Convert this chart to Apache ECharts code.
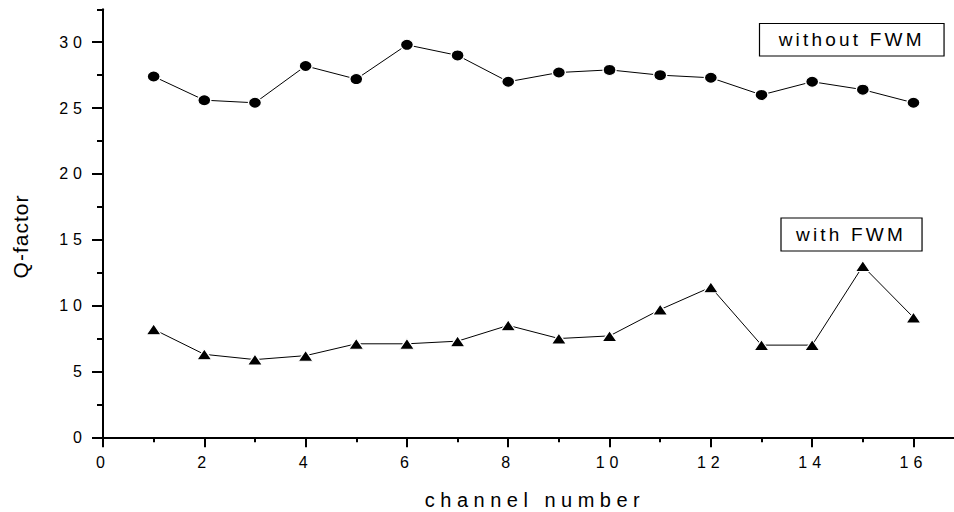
<!DOCTYPE html>
<html>
<head>
<meta charset="utf-8">
<script src="https://cdn.jsdelivr.net/npm/echarts@6/dist/echarts.min.js"></script>
<style>
  html, body { margin: 0; padding: 0; background: #fff; }
  #chart { width: 954px; height: 512px; }
  /* letter spacing of the original's text, keyed by font size */
  #chart text[style*="16px"] { letter-spacing: 5px; }
  #chart text[style*="20px"] { letter-spacing: 5.5px; }
  #chart text[style*="19px"] { letter-spacing: 3.2px; }
  #chart text[style*="21px"] { letter-spacing: 1px; }
</style>
</head>
<body>
<div id="chart"></div>
<script>
// ---- data ----
const channels   = [1, 2, 3, 4, 5, 6, 7, 8, 9, 10, 11, 12, 13, 14, 15, 16];
const withoutFWM = [27.4, 25.6, 25.4, 28.2, 27.2, 29.8, 29.0, 27.0, 27.7, 27.9, 27.5, 27.3, 26.0, 27.0, 26.4, 25.4];
const withFWM    = [8.2, 6.3, 5.9, 6.2, 7.1, 7.1, 7.3, 8.5, 7.5, 7.7, 9.7, 11.4, 7.0, 7.0, 13.0, 9.1];
const seriesNames = ['without FWM', 'with FWM'];
const xMajorTicks = [0, 2, 4, 6, 8, 10, 12, 14, 16];
const xMinorTicks = [1, 3, 5, 7, 9, 11, 13, 15];
const yMajorTicks = [0, 5, 10, 15, 20, 25, 30];
const yMinorTicks = [2.5, 7.5, 12.5, 17.5, 22.5, 27.5, 32.5];
const xTitle = 'channel number';
const yTitle = 'Q-factor';

const FONT = 'Liberation Sans';
const pairs = vals => channels.map((c, i) => [c, vals[i]]);

const chart = echarts.init(document.getElementById('chart'), null, { renderer: 'svg' });

const axisLineStyle = { color: '#000', width: 2 };
const baseX = { type: 'value', min: 0, max: 16.8, interval: 2, gridIndex: 0, position: 'bottom', splitLine: { show: false } };
const baseY = { type: 'value', min: 0, max: 32.5, interval: 5, gridIndex: 0, position: 'left', splitLine: { show: false } };

chart.setOption({
  animation: false,
  backgroundColor: '#fff',
  grid: { left: 103, right: 0, top: 9.3, bottom: 74.7, containLabel: false },
  xAxis: [
    Object.assign({}, baseX, {
      axisLine: { show: true, onZero: false, lineStyle: axisLineStyle },
      axisTick: { show: true, length: 10, lineStyle: { color: '#000', width: 2 }, customValues: xMajorTicks },
      axisLabel: { show: true, customValues: xMajorTicks, color: '#000', fontSize: 16, fontFamily: FONT, margin: 17 }
    }),
    Object.assign({}, baseX, {
      axisLine: { show: false },
      axisTick: { show: true, length: 5, lineStyle: { color: '#000', width: 2 }, customValues: xMinorTicks },
      axisLabel: { show: false }
    })
  ],
  yAxis: [
    Object.assign({}, baseY, {
      axisLine: { show: true, onZero: false, lineStyle: axisLineStyle },
      axisTick: { show: true, length: 11, lineStyle: { color: '#000', width: 2 }, customValues: yMajorTicks },
      axisLabel: { show: true, customValues: yMajorTicks, color: '#000', fontSize: 16, fontFamily: FONT, margin: 16 }
    }),
    Object.assign({}, baseY, {
      axisLine: { show: false },
      axisTick: { show: true, length: 6, lineStyle: { color: '#000', width: 2 }, customValues: yMinorTicks },
      axisLabel: { show: false }
    })
  ],
  legend: [
    {
      data: [seriesNames[0]], icon: 'none', itemWidth: 0, itemHeight: 14,
      left: 759.5, top: 23.5, padding: [6.75, 54.5, 6.75, 14.2],
      borderColor: '#000', borderWidth: 1.2, borderRadius: 0,
      textStyle: { color: '#000', fontSize: 19, fontFamily: FONT },
      selectedMode: false
    },
    {
      data: [seriesNames[1]], icon: 'none', itemWidth: 0, itemHeight: 14,
      left: 781, top: 218, padding: [7, 41.6, 7, 10],
      borderColor: '#000', borderWidth: 1.2, borderRadius: 0,
      textStyle: { color: '#000', fontSize: 19, fontFamily: FONT },
      selectedMode: false
    }
  ],
  graphic: [
    {
      type: 'text', x: 535, y: 500,
      style: { text: xTitle, fill: '#000', font: '20px "' + FONT + '"', textAlign: 'center', textVerticalAlign: 'middle' }
    },
    {
      type: 'text', x: 20, y: 236.5, rotation: Math.PI / 2,
      style: { text: yTitle, fill: '#000', font: '21px "' + FONT + '"', textAlign: 'center', textVerticalAlign: 'middle' }
    }
  ],
  series: [
    {
      name: seriesNames[0], type: 'line', xAxisIndex: 0, yAxisIndex: 0,
      data: pairs(withoutFWM),
      symbol: 'circle', symbolSize: [13, 11],
      lineStyle: { color: '#000', width: 1 },
      itemStyle: { color: '#000', borderColor: '#fff', borderWidth: 1.2 },
      emphasis: { disabled: true }
    },
    {
      name: seriesNames[1], type: 'line', xAxisIndex: 0, yAxisIndex: 0,
      data: pairs(withFWM),
      symbol: 'triangle', symbolSize: [15, 11],
      lineStyle: { color: '#000', width: 1 },
      itemStyle: { color: '#000', borderColor: '#fff', borderWidth: 1.2 },
      emphasis: { disabled: true }
    }
  ]
});
</script>
</body>
</html>
